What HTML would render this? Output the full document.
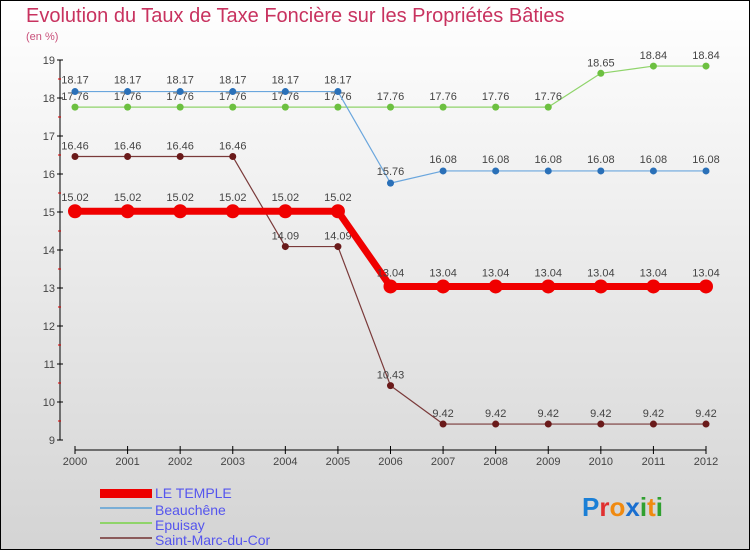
<!DOCTYPE html>
<html><head><meta charset="utf-8"><style>
body{margin:0;width:750px;height:550px;overflow:hidden}
svg{display:block;font-family:"Liberation Sans",sans-serif}
</style></head><body>
<svg id="c" width="750" height="550" viewBox="0 0 750 550">
<defs><linearGradient id="bg" x1="0" y1="0" x2="0" y2="1"><stop offset="0" stop-color="#ffffff"/><stop offset="1" stop-color="#d4d4d4"/></linearGradient></defs>
<rect x="0.5" y="0.5" width="749" height="549" fill="url(#bg)" stroke="#000"/>
<text x="26" y="22" font-size="20" fill="#c8325f">Evolution du Taux de Taxe Foncière sur les Propriétés Bâties</text>
<text x="26" y="40" font-size="11" fill="#c8507a">(en %)</text>
<g id="axes"></g><g id="series"></g>
<g>
<rect x="100" y="489" width="52" height="9" fill="#e00"/>
<text x="155" y="498" font-size="14" fill="#5555ee">LE TEMPLE</text>
<line x1="100" y1="508" x2="152" y2="508" stroke="#7aaed6" stroke-width="2"/>
<text x="155" y="515" font-size="14" fill="#5555ee">Beauchêne</text>
<line x1="100" y1="523" x2="152" y2="523" stroke="#8fd46a" stroke-width="2"/>
<text x="155" y="530" font-size="14" fill="#5555ee">Epuisay</text>
<line x1="100" y1="538" x2="152" y2="538" stroke="#8a5a5a" stroke-width="2"/>
<text x="155" y="545" font-size="14" fill="#5555ee">Saint-Marc-du-Cor</text>
</g>
<text x="582" y="516" font-size="26" font-weight="bold"><tspan fill="#1a7fd6">P</tspan><tspan fill="#e03030">r</tspan><tspan fill="#f08a10">o</tspan><tspan fill="#1a6fd0">x</tspan><tspan fill="#30a030">i</tspan><tspan fill="#f08a10">t</tspan><tspan fill="#30a030">i</tspan></text>
</svg>
<script>
const years=[2000,2001,2002,2003,2004,2005,2006,2007,2008,2009,2010,2011,2012];
const yTicks=[9,10,11,12,13,14,15,16,17,18,19];
const leTemple=[15.02,15.02,15.02,15.02,15.02,15.02,13.04,13.04,13.04,13.04,13.04,13.04,13.04];
const beauchene=[18.17,18.17,18.17,18.17,18.17,18.17,15.76,16.08,16.08,16.08,16.08,16.08,16.08];
const epuisay=[17.76,17.76,17.76,17.76,17.76,17.76,17.76,17.76,17.76,17.76,18.65,18.84,18.84];
const saintMarc=[16.46,16.46,16.46,16.46,14.09,14.09,10.43,9.42,9.42,9.42,9.42,9.42,9.42];
const NS='http://www.w3.org/2000/svg';
const xS=y=>75+(y-2000)*(706-75)/12;
const yS=v=>440-(v-9)*38;
function mk(t,a,p){const e=document.createElementNS(NS,t);for(const k in a)e.setAttribute(k,a[k]);p.appendChild(e);return e;}
const ax=document.getElementById('axes');
let l=mk('line',{x1:60,y1:yS(19),x2:60,y2:yS(9),stroke:'#000'},ax);


l=mk('line',{x1:75,y1:450,x2:706,y2:450,stroke:'#000'},ax);


yTicks.forEach(v=>{
 mk('line',{x1:57,y1:yS(v),x2:63,y2:yS(v),stroke:'#000'},ax);
 if(v<19)mk('line',{x1:58,y1:yS(v+0.5),x2:61,y2:yS(v+0.5),stroke:'#d00'},ax);
 const t=mk('text',{x:55,y:yS(v)+4,'font-size':11,fill:'#444','text-anchor':'end'},ax);t.textContent=v;
 
 
});
years.forEach(y=>{
 mk('line',{x1:xS(y),y1:446,x2:xS(y),y2:454,stroke:'#000'},ax);
 const t=mk('text',{x:xS(y),y:465,'font-size':11,fill:'#444','text-anchor':'middle'},ax);t.textContent=y;
 
 
});
const sg=document.getElementById('series');
function series(vals,color,w,r,dot,name,labelDy){
 const g=mk('g',{},sg);
 
 
 mk('polyline',{points:vals.map((v,i)=>xS(years[i])+','+yS(v)).join(' '),fill:'none',stroke:color,'stroke-width':w,'stroke-linejoin':'round'},g);
 vals.forEach((v,i)=>{
  const c=mk('circle',{cx:xS(years[i]),cy:yS(v),r:r,fill:dot},g);
  
  
  const t=mk('text',{x:xS(years[i]),y:yS(v)+labelDy,'font-size':11,fill:'#444','text-anchor':'middle'},g);
  t.textContent=v;
  
  
 });
}
series(saintMarc,'#7a3a3a',1.2,3.5,'#6a1a1a','saint-marc-series',-7);
series(epuisay,'#8fd46a',1.2,3.5,'#6cc040','epuisay-series',-7);
series(beauchene,'#6aa6dd',1.2,3.5,'#2a70b8','beauchene-series',-8);
series(leTemple,'#f00000',7,7,'#f00000','le-temple-series',-10);
</script>
</body></html>
